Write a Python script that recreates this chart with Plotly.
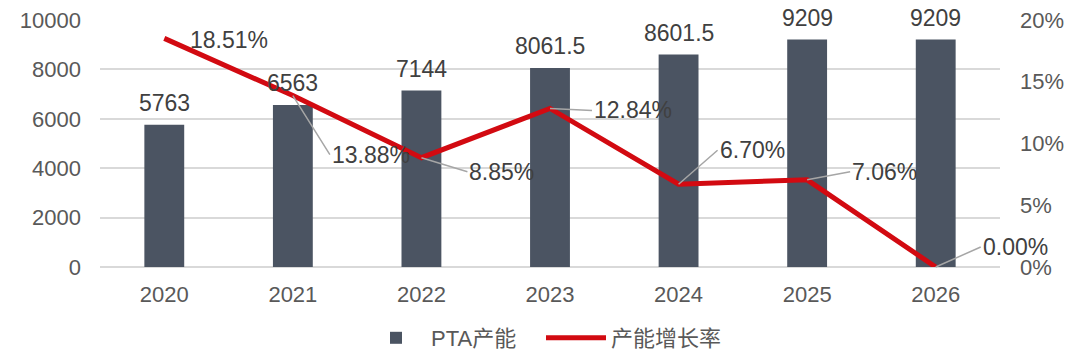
import plotly.graph_objects as go

# PTA capacity and its year-on-year growth rate
years = ["2020", "2021", "2022", "2023", "2024", "2025", "2026"]
capacity = [5763, 6563, 7144, 8061.5, 8601.5, 9209, 9209]
growth = [0.1851, 0.1388, 0.0885, 0.1284, 0.0670, 0.0706, 0.0000]

# pixel offsets of each growth label relative to its point (ax, ay); None = plain label
label_offsets = [None, (37, 59), (46, 14), (42, 2), (39, -34), (43, -8), (45, -20)]

FONT = "Liberation Sans, Arial, Noto Sans CJK SC, sans-serif"
BAR_COLOR = "#4B5462"
LINE_COLOR = "#D20A11"
TICK_COLOR = "#595959"
LABEL_COLOR = "#404040"

fig = go.Figure()

fig.add_trace(go.Bar(
    x=years, y=capacity, name="PTA产能",
    marker=dict(color=BAR_COLOR, line=dict(width=0)),
    width=0.31, yaxis="y",
))

fig.add_trace(go.Scatter(
    x=years, y=growth, name="产能增长率", mode="lines",
    line=dict(color=LINE_COLOR, width=5), yaxis="y2",
))

annotations = []
# capacity value labels above bars (category axis -> serial index positions)
for i, v in enumerate(capacity):
    txt = f"{v:g}" if v != int(v) else str(int(v))
    annotations.append(dict(
        x=i, y=v, xref="x", yref="y", text=txt, showarrow=False,
        yanchor="bottom", yshift=7,
        font=dict(size=23, color=LABEL_COLOR, family=FONT),
    ))

# growth-rate labels with leader lines
for i, (g, off) in enumerate(zip(growth, label_offsets)):
    txt = f"{g * 100:.2f}%"
    if off is None:
        annotations.append(dict(
            x=i, y=g, xref="x", yref="y2", text=txt, showarrow=False,
            xanchor="left", yanchor="middle", xshift=24, yshift=-2,
            font=dict(size=23, color=LABEL_COLOR, family=FONT),
        ))
    else:
        annotations.append(dict(
            x=i, y=g, xref="x", yref="y2", text=txt, showarrow=True,
            arrowhead=0, arrowwidth=1.5, arrowcolor="#A6A6A6",
            ax=off[0], ay=off[1], xanchor="left", yanchor="middle",
            font=dict(size=23, color=LABEL_COLOR, family=FONT),
        ))

fig.update_layout(
    width=1068, height=359,
    margin=dict(l=100, r=68, t=20, b=92, autoexpand=False),
    paper_bgcolor="white", plot_bgcolor="white",
    font=dict(family=FONT, size=22, color=TICK_COLOR),
    showlegend=True,
    legend=dict(
        orientation="h", x=0.29, xanchor="left",
        yref="container", y=-0.02, yanchor="bottom",
        font=dict(size=22, color=TICK_COLOR, family=FONT),
        traceorder="normal", itemwidth=60,
        entrywidth=105, entrywidthmode="pixels",
    ),
    xaxis=dict(
        type="category", range=[-0.5, 6.5], showgrid=False, showline=False,
        ticks="", tickfont=dict(size=22, color=TICK_COLOR),
        ticklabelstandoff=12,
    ),
    yaxis=dict(
        range=[0, 10000], dtick=2000, showgrid=True, gridcolor="#D9D9D9",
        gridwidth=1.5, zeroline=True, zerolinecolor="#D9D9D9", zerolinewidth=1.5,
        showline=False, ticks="", tickformat="d",
        tickfont=dict(size=22, color=TICK_COLOR), ticklabelstandoff=18,
    ),
    yaxis2=dict(
        range=[0, 0.2], dtick=0.05, overlaying="y", side="right",
        showgrid=False, zeroline=False, showline=False, ticks="",
        tickformat=".0%", tickfont=dict(size=22, color=TICK_COLOR),
        ticklabelstandoff=19,
    ),
    annotations=annotations,
)

fig.write_html("out.html")
